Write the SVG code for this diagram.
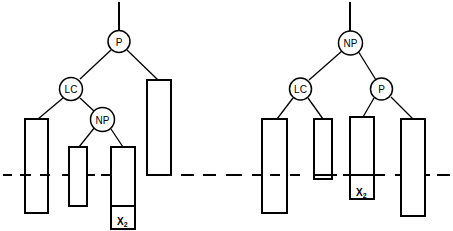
<svg xmlns="http://www.w3.org/2000/svg" width="453" height="231" viewBox="0 0 453 231">
<style>
.bg{fill:#fff}
.edge{stroke:#000;stroke-width:1.3;fill:none}
.stem{stroke:#000;stroke-width:2;fill:none}
.node{fill:#fff;stroke:#000;stroke-width:1.5}
.box{fill:none;stroke:#000;stroke-width:2}
.lbl{font-family:"Liberation Sans",Arial,sans-serif;font-size:10px;fill:#000;text-anchor:middle}
.x{font-family:"Liberation Sans",Arial,sans-serif;font-size:10px;font-weight:bold;fill:#000}
.sub{font-size:7px}
</style>
<rect class="bg" x="0" y="0" width="453" height="231"/>
<g id="connectors">
<line class="stem" x1="119" y1="2" x2="119" y2="30"/>
<line class="edge" x1="111" y1="50" x2="80" y2="79"/>
<line class="edge" x1="127" y1="50" x2="158" y2="80"/>
<line class="edge" x1="63" y1="98" x2="38" y2="119"/>
<line class="edge" x1="80" y1="98" x2="95" y2="112"/>
<line class="edge" x1="95" y1="127" x2="79" y2="147"/>
<line class="edge" x1="111" y1="129" x2="123" y2="147"/>
<line class="stem" x1="350" y1="2" x2="350" y2="31"/>
<line class="edge" x1="342" y1="51" x2="309" y2="80"/>
<line class="edge" x1="358" y1="51" x2="376" y2="80"/>
<line class="edge" x1="293" y1="98" x2="277" y2="119"/>
<line class="edge" x1="308" y1="98" x2="323" y2="119"/>
<line class="edge" x1="374" y1="98" x2="363" y2="117"/>
<line class="edge" x1="391" y1="97" x2="413" y2="119"/>
</g>
<g id="dashed-line"><path class="stem" d="M3 175H12M20 175H31M40 175H50M62 175H69M87 175H95M101 175H111M147 175H171M181 175H194M203 175H216M226 175H242M252 175H262M270 175H280M290 175H300M313 175H337M343 175H385M395 175H401M425 175H430M437 175H450"/></g>
<g id="left-rect-a"><rect class="box" x="25" y="119" width="23" height="94"/></g>
<g id="left-rect-b"><rect class="box" x="69" y="147" width="18" height="59"/></g>
<g id="left-rect-x2"><rect class="box" x="111" y="147" width="24" height="82"/><line class="stem" x1="111" y1="206" x2="135" y2="206"/><text class="x" x="117" y="225">X<tspan class="sub" dy="2">2</tspan></text></g>
<g id="left-rect-c"><rect class="box" x="147" y="80" width="24" height="95"/></g>
<g id="right-rect-a"><rect class="box" x="262" y="119" width="25" height="94"/></g>
<g id="right-rect-b"><rect class="box" x="314" y="119" width="18" height="60"/></g>
<g id="right-rect-x2"><rect class="box" x="350" y="117" width="24" height="82"/><text class="x" x="356" y="196">X<tspan class="sub" dy="2">2</tspan></text></g>
<g id="right-rect-c"><rect class="box" x="401" y="119" width="24" height="97"/></g>
<g id="node-P-left"><circle class="node" cx="119" cy="41.5" r="11"/><text class="lbl" x="119" y="45.5">P</text></g>
<g id="node-LC-left"><circle class="node" cx="71" cy="89" r="11.5"/><text class="lbl" x="71" y="93">LC</text></g>
<g id="node-NP-left"><circle class="node" cx="102.5" cy="119.5" r="12"/><text class="lbl" x="102.5" y="123.5">NP</text></g>
<g id="node-NP-right"><circle class="node" cx="350.5" cy="43" r="12"/><text class="lbl" x="350.5" y="47">NP</text></g>
<g id="node-LC-right"><circle class="node" cx="300.5" cy="89" r="11"/><text class="lbl" x="300.5" y="93">LC</text></g>
<g id="node-P-right"><circle class="node" cx="381.5" cy="89" r="11"/><text class="lbl" x="381.5" y="93">P</text></g>
</svg>
